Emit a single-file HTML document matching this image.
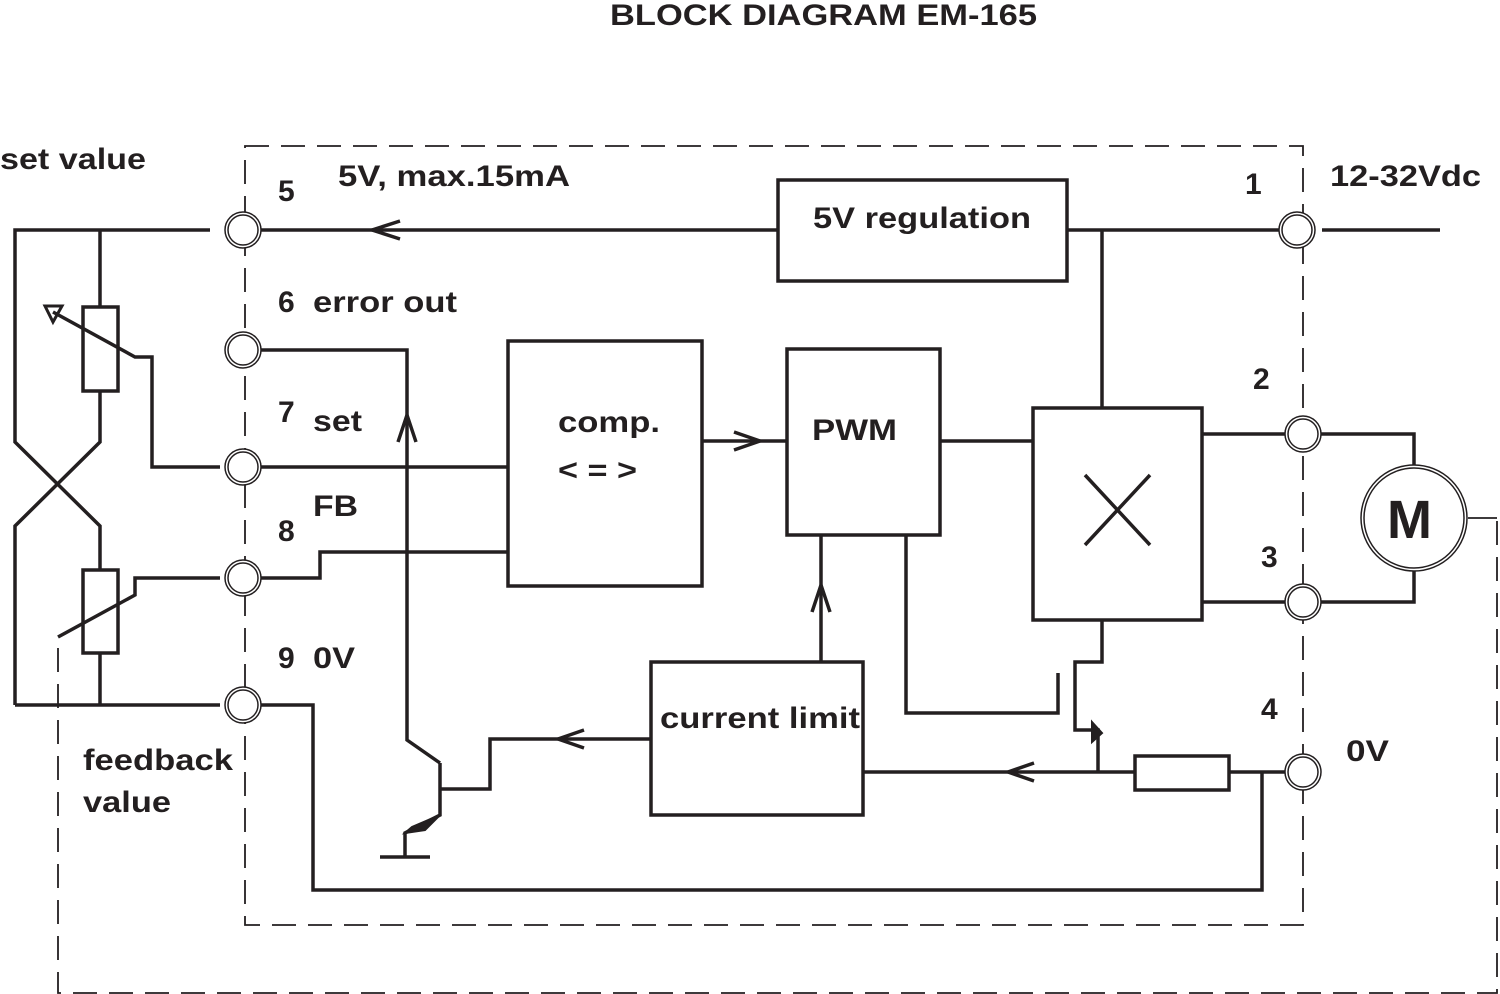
<!DOCTYPE html>
<html><head><meta charset="utf-8"><style>
body{margin:0;background:#fff}
svg{display:block}
text{font-family:"Liberation Sans",Arial,sans-serif;font-weight:bold;fill:#231f20}
</style></head><body>
<svg width="1500" height="994" viewBox="0 0 1500 994" xmlns="http://www.w3.org/2000/svg">
<g fill="none" stroke="#231f20" stroke-width="1.8" stroke-dasharray="24,12">
<path d="M245 146H1303V925H245Z"/>
<path d="M58 648V993H1497V518"/>
</g>
<line x1="1468" y1="518" x2="1497" y2="518" stroke="#231f20" stroke-width="1.8"/>
<g fill="none" stroke="#231f20" stroke-width="3.5" stroke-linejoin="miter">
<path d="M210 230H15V442L100 526V570M100 653V705M15 705H220M15 705V526L100 442V391M100 307V230"/>
<rect x="83" y="307" width="35" height="84"/>
<rect x="83" y="570" width="35" height="83"/>
<path d="M53 312L135 357H152V467H220"/>
<path d="M58 637L135 595V578H220"/>
<path d="M260 230H778M1067 230H1280M1322 230H1440M1102 230V408"/>
<rect x="778" y="180" width="289" height="101"/>
<path d="M260 350H407V740L440 763"/>
<path d="M260 467H508M260 578H320V552H508"/>
<rect x="508" y="341" width="194" height="245"/>
<path d="M702 441H787"/>
<rect x="787" y="349" width="153" height="186"/>
<path d="M940 441H1033"/>
<rect x="1033" y="408" width="169" height="212"/>
<path d="M1085 475L1150 545M1150 475L1085 545"/>
<path d="M1202 434H1286M1320 434H1414V466M1202 602H1286M1320 602H1414V570"/>
<path d="M906 535V713H1058V673"/>
<path d="M1102 620V662H1075V730H1098V772"/>
<rect x="651" y="662" width="212" height="153"/>
<path d="M821 662V535"/>
<path d="M863 772H1135M1229 772H1286"/>
<rect x="1135" y="756" width="94" height="34"/>
<path d="M1262 772V890H313V705H260"/>
<path d="M651 739H490V789H440M440 763V815L405 833V857M380 857H430"/>
<path d="M372 230L400 221M372 230L400 239"/>
<path d="M760 441L734 432M760 441L734 450"/>
<path d="M407 415L398 442M407 415L416 442"/>
<path d="M821 585L812 612M821 585L830 612"/>
<path d="M1008 772L1034 763M1008 772L1034 781"/>
<path d="M558 739L584 730M558 739L584 748"/>
<path d="M45 306H62L53 322Z" stroke-width="3"/>
</g>
<path d="M440 815L412 827L405 833L425 830Z" fill="#231f20" stroke="#231f20" stroke-width="2"/>
<path d="M1092 722L1102 733L1092 742Z" fill="#231f20" stroke="#231f20" stroke-width="2"/>
<g fill="#fff" stroke="#231f20" stroke-width="1.5">
<circle cx="243" cy="230" r="18"/><circle cx="243" cy="230" r="15"/>
<circle cx="243" cy="350" r="18"/><circle cx="243" cy="350" r="15"/>
<circle cx="243" cy="467" r="18"/><circle cx="243" cy="467" r="15"/>
<circle cx="243" cy="578" r="18"/><circle cx="243" cy="578" r="15"/>
<circle cx="243" cy="705" r="18"/><circle cx="243" cy="705" r="15"/>
<circle cx="1297" cy="230" r="18"/><circle cx="1297" cy="230" r="15"/>
<circle cx="1303" cy="434" r="18"/><circle cx="1303" cy="434" r="15"/>
<circle cx="1303" cy="602" r="18"/><circle cx="1303" cy="602" r="15"/>
<circle cx="1303" cy="772" r="18"/><circle cx="1303" cy="772" r="15"/>
<circle cx="1414" cy="518" r="53"/><circle cx="1414" cy="518" r="50"/>
</g>
<g font-size="30">
<text x="610" y="25" textLength="427" lengthAdjust="spacingAndGlyphs">BLOCK DIAGRAM EM-165</text>
<text x="0" y="169" textLength="146" lengthAdjust="spacingAndGlyphs">set value</text>
<text x="278" y="201">5</text>
<text x="338" y="186" textLength="232" lengthAdjust="spacingAndGlyphs">5V, max.15mA</text>
<text x="813" y="228" textLength="218" lengthAdjust="spacingAndGlyphs">5V regulation</text>
<text x="1245" y="194">1</text>
<text x="1330" y="186" textLength="151" lengthAdjust="spacingAndGlyphs">12-32Vdc</text>
<text x="278" y="312">6</text><text x="313" y="312" textLength="144" lengthAdjust="spacingAndGlyphs">error out</text>
<text x="278" y="422">7</text><text x="313" y="431" textLength="49" lengthAdjust="spacingAndGlyphs">set</text>
<text x="313" y="516" textLength="45" lengthAdjust="spacingAndGlyphs">FB</text>
<text x="278" y="541">8</text>
<text x="278" y="668">9</text><text x="313" y="668" textLength="42" lengthAdjust="spacingAndGlyphs">0V</text>
<text x="558" y="432" textLength="102" lengthAdjust="spacingAndGlyphs">comp.</text>
<text x="558" y="480" textLength="79" lengthAdjust="spacingAndGlyphs">&lt; = &gt;</text>
<text x="812" y="440" textLength="85" lengthAdjust="spacingAndGlyphs">PWM</text>
<text x="1253" y="389">2</text>
<text x="1261" y="567">3</text>
<text x="1261" y="719">4</text>
<text x="1346" y="761" textLength="43" lengthAdjust="spacingAndGlyphs">0V</text>
<text x="660" y="728" textLength="200" lengthAdjust="spacingAndGlyphs">current limit</text>
<text x="83" y="770" textLength="150" lengthAdjust="spacingAndGlyphs">feedback</text>
<text x="83" y="812" textLength="88" lengthAdjust="spacingAndGlyphs">value</text>
</g>
<text x="1387" y="538" font-size="54">M</text>
</svg>
</body></html>
